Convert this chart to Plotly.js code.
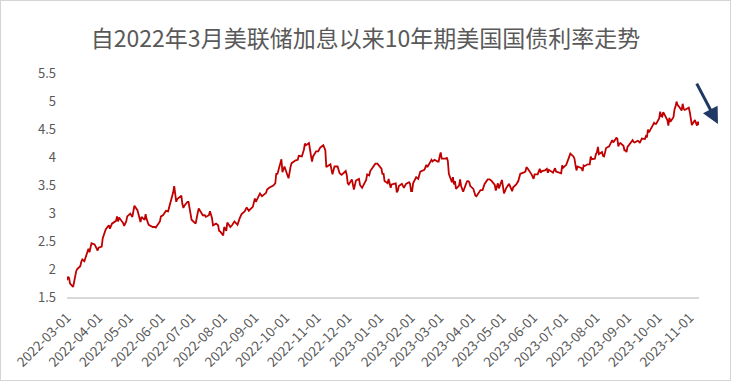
<!DOCTYPE html>
<html>
<head>
<meta charset="utf-8">
<script src="https://cdn.plot.ly/plotly-3.0.1.min.js"></script>
<style>
html,body{margin:0;padding:0;background:#fff;}
#chart{width:731px;height:381px;box-sizing:border-box;border:1px solid #d4d4d4;}
</style>
</head>
<body>
<div id="chart"></div>
<script>
const titleText = "自2022年3月美联储加息以来10年期美国国债利率走势";

const dates = [
"2022-03-01","2022-03-02","2022-03-03","2022-03-04","2022-03-07","2022-03-08","2022-03-09","2022-03-10","2022-03-11","2022-03-14","2022-03-15","2022-03-16","2022-03-18","2022-03-21","2022-03-22","2022-03-23","2022-03-25","2022-03-28","2022-03-30","2022-03-31",
"2022-04-01","2022-04-04","2022-04-05","2022-04-06","2022-04-08","2022-04-11","2022-04-12","2022-04-14","2022-04-18","2022-04-19","2022-04-20","2022-04-21","2022-04-22","2022-04-25","2022-04-26","2022-04-28","2022-04-29",
"2022-05-02","2022-05-04","2022-05-05","2022-05-06","2022-05-09","2022-05-10","2022-05-12","2022-05-13","2022-05-16","2022-05-17","2022-05-18","2022-05-20","2022-05-24","2022-05-26","2022-05-27","2022-05-31",
"2022-06-01","2022-06-03","2022-06-06","2022-06-08","2022-06-10","2022-06-13","2022-06-14","2022-06-15","2022-06-16","2022-06-17","2022-06-21","2022-06-22","2022-06-23","2022-06-24","2022-06-27","2022-06-28","2022-06-29","2022-06-30",
"2022-07-01","2022-07-05","2022-07-06","2022-07-07","2022-07-08","2022-07-11","2022-07-12","2022-07-14","2022-07-15","2022-07-18","2022-07-19","2022-07-21","2022-07-22","2022-07-25","2022-07-27","2022-07-28","2022-07-29",
"2022-08-01","2022-08-02","2022-08-04","2022-08-05","2022-08-08","2022-08-10","2022-08-12","2022-08-15","2022-08-17","2022-08-19","2022-08-22","2022-08-24","2022-08-26","2022-08-30",
"2022-09-01","2022-09-02","2022-09-06","2022-09-08","2022-09-12","2022-09-13","2022-09-15","2022-09-19","2022-09-21","2022-09-22","2022-09-23","2022-09-26","2022-09-27","2022-09-28","2022-09-30",
"2022-10-03","2022-10-04","2022-10-06","2022-10-07","2022-10-11","2022-10-13","2022-10-14","2022-10-17","2022-10-19","2022-10-20","2022-10-21","2022-10-24","2022-10-26","2022-10-27","2022-10-28","2022-10-31",
"2022-11-02","2022-11-04","2022-11-07","2022-11-09","2022-11-10","2022-11-14","2022-11-16","2022-11-18","2022-11-21","2022-11-23","2022-11-25","2022-11-29","2022-11-30",
"2022-12-01","2022-12-02","2022-12-05","2022-12-07","2022-12-09","2022-12-12","2022-12-13","2022-12-15","2022-12-16","2022-12-19","2022-12-20","2022-12-22","2022-12-23","2022-12-27","2022-12-28","2022-12-30",
"2023-01-03","2023-01-04","2023-01-05","2023-01-06","2023-01-09","2023-01-10","2023-01-11","2023-01-12","2023-01-13","2023-01-17","2023-01-18","2023-01-19","2023-01-20","2023-01-23","2023-01-25","2023-01-26","2023-01-27","2023-01-30","2023-01-31",
"2023-02-01","2023-02-02","2023-02-03","2023-02-06","2023-02-08","2023-02-10","2023-02-14","2023-02-15","2023-02-16","2023-02-17","2023-02-21","2023-02-22","2023-02-24","2023-02-27","2023-02-28",
"2023-03-01","2023-03-02","2023-03-03","2023-03-06","2023-03-07","2023-03-08","2023-03-09","2023-03-10","2023-03-13","2023-03-14","2023-03-15","2023-03-16","2023-03-17","2023-03-20","2023-03-21","2023-03-22","2023-03-23","2023-03-24","2023-03-27","2023-03-28","2023-03-29","2023-03-30","2023-03-31",
"2023-04-03","2023-04-05","2023-04-06","2023-04-10","2023-04-12","2023-04-14","2023-04-17","2023-04-19","2023-04-21","2023-04-24","2023-04-25","2023-04-27","2023-04-28",
"2023-05-01","2023-05-03","2023-05-04","2023-05-05","2023-05-08","2023-05-10","2023-05-11","2023-05-12","2023-05-15","2023-05-17","2023-05-19","2023-05-22","2023-05-24","2023-05-25","2023-05-26","2023-05-30","2023-05-31",
"2023-06-01","2023-06-02","2023-06-05","2023-06-07","2023-06-08","2023-06-09","2023-06-12","2023-06-14","2023-06-15","2023-06-16","2023-06-20","2023-06-22","2023-06-23","2023-06-26","2023-06-28","2023-06-29","2023-06-30",
"2023-07-03","2023-07-05","2023-07-06","2023-07-07","2023-07-10","2023-07-11","2023-07-12","2023-07-13","2023-07-14","2023-07-17","2023-07-18","2023-07-19","2023-07-20","2023-07-21","2023-07-24","2023-07-26","2023-07-27","2023-07-28","2023-07-31",
"2023-08-01","2023-08-02","2023-08-03","2023-08-04","2023-08-07","2023-08-08","2023-08-09","2023-08-10","2023-08-11","2023-08-14","2023-08-15","2023-08-16","2023-08-17","2023-08-18","2023-08-21","2023-08-22","2023-08-23","2023-08-24","2023-08-25","2023-08-28","2023-08-29","2023-08-30","2023-08-31",
"2023-09-01","2023-09-05","2023-09-06","2023-09-07","2023-09-08","2023-09-11","2023-09-12","2023-09-13","2023-09-14","2023-09-15","2023-09-18","2023-09-19","2023-09-20","2023-09-21","2023-09-22","2023-09-25","2023-09-26","2023-09-27","2023-09-28","2023-09-29",
"2023-10-02","2023-10-03","2023-10-04","2023-10-05","2023-10-06","2023-10-10","2023-10-11","2023-10-12","2023-10-13","2023-10-16","2023-10-17","2023-10-18","2023-10-19","2023-10-20","2023-10-23","2023-10-24","2023-10-25","2023-10-26","2023-10-27","2023-10-30","2023-10-31",
"2023-11-01","2023-11-02","2023-11-03","2023-11-06","2023-11-07","2023-11-08","2023-11-09","2023-11-10"
];

const yields = [
1.80,1.86,1.84,1.74,1.68,1.78,1.90,1.96,2.00,2.05,2.13,2.17,2.14,2.30,2.36,2.30,2.46,2.44,2.36,2.33,
2.38,2.40,2.55,2.60,2.71,2.78,2.72,2.81,2.86,2.94,2.85,2.92,2.90,2.82,2.77,2.85,2.94,
2.99,2.93,3.05,3.13,3.05,2.99,2.84,2.93,2.88,2.98,2.89,2.79,2.75,2.75,2.74,2.85,
2.94,2.96,3.04,3.03,3.16,3.37,3.48,3.33,3.20,3.25,3.31,3.16,3.09,3.13,3.20,3.20,3.10,2.98,
2.88,2.81,2.93,3.00,3.08,2.99,2.96,2.96,2.93,2.96,3.03,2.91,2.78,2.81,2.78,2.68,2.67,
2.60,2.75,2.68,2.83,2.75,2.79,2.85,2.79,2.90,2.98,3.03,3.10,3.04,3.11,
3.26,3.20,3.35,3.30,3.36,3.42,3.45,3.49,3.53,3.71,3.69,3.93,3.96,3.73,3.83,
3.67,3.62,3.83,3.89,3.94,3.95,4.02,4.01,4.13,4.24,4.21,4.25,4.02,3.92,4.01,4.10,
4.10,4.17,4.21,4.12,3.82,3.87,3.69,3.83,3.83,3.71,3.68,3.75,3.68,
3.53,3.51,3.60,3.42,3.58,3.61,3.50,3.45,3.48,3.59,3.69,3.67,3.75,3.84,3.88,3.88,
3.79,3.69,3.71,3.57,3.53,3.61,3.55,3.45,3.51,3.53,3.37,3.40,3.48,3.52,3.45,3.50,3.52,3.55,3.52,
3.39,3.39,3.53,3.64,3.61,3.74,3.77,3.81,3.86,3.82,3.95,3.92,3.95,3.92,3.92,
4.01,4.08,3.97,3.98,3.97,3.99,3.93,3.70,3.55,3.64,3.51,3.57,3.43,3.49,3.60,3.48,3.42,3.38,3.53,3.57,3.57,3.55,3.48,
3.43,3.31,3.30,3.41,3.41,3.52,3.60,3.60,3.57,3.50,3.40,3.53,3.44,
3.59,3.35,3.39,3.44,3.52,3.44,3.39,3.46,3.51,3.57,3.70,3.72,3.74,3.82,3.80,3.69,3.64,
3.61,3.69,3.69,3.79,3.72,3.75,3.76,3.79,3.72,3.77,3.72,3.80,3.74,3.72,3.71,3.85,3.81,
3.86,3.95,4.03,4.06,4.01,3.97,3.86,3.76,3.83,3.81,3.80,3.75,3.85,3.84,3.87,3.87,4.01,3.96,3.97,
4.05,4.08,4.18,4.05,4.09,4.02,4.01,4.09,4.16,4.19,4.22,4.26,4.30,4.26,4.34,4.33,4.19,4.24,4.25,4.20,4.12,4.12,4.09,
4.18,4.27,4.30,4.27,4.26,4.29,4.28,4.25,4.29,4.33,4.32,4.37,4.35,4.49,4.44,4.55,4.56,4.61,4.59,4.59,
4.69,4.81,4.73,4.72,4.80,4.66,4.56,4.70,4.63,4.71,4.85,4.90,4.99,4.93,4.86,4.83,4.95,4.86,4.84,4.88,4.88,
4.80,4.67,4.57,4.66,4.58,4.56,4.63,4.57
];

const xTickVals = ["2022-03-01","2022-04-01","2022-05-01","2022-06-01","2022-07-01","2022-08-01","2022-09-01","2022-10-01","2022-11-01","2022-12-01","2023-01-01","2023-02-01","2023-03-01","2023-04-01","2023-05-01","2023-06-01","2023-07-01","2023-08-01","2023-09-01","2023-10-01","2023-11-01"];
const xTickText = xTickVals.slice();
const yTickVals = [1.5,2,2.5,3,3.5,4,4.5,5,5.5];
const yTickText = ["1.5","2","2.5","3","3.5","4","4.5","5","5.5"];

const trace = {
  x: dates, y: yields, type: "scatter", mode: "lines",
  line: {color: "#c00000", width: 1.8},
  hoverinfo: "x+y"
};

const layout = {
  width: 729, height: 379,
  margin: {l: 66, r: 31, t: 72, b: 83},
  paper_bgcolor: "#ffffff", plot_bgcolor: "#ffffff",
  showlegend: false,
  title: {text: titleText, x: 0.5, xref: "container", xanchor: "center", y: 0.90, yanchor: "middle",
    font: {family: "Noto Sans CJK SC, sans-serif", size: 23, color: "#595959"}},
  font: {family: "Noto Sans CJK SC, sans-serif", color: "#595959"},
  xaxis: {
    type: "date", range: ["2022-03-01", "2023-11-10"],
    tickmode: "array", tickvals: xTickVals, ticktext: xTickText,
    tickangle: -45, tickfont: {size: 13.5, color: "#595959", family: "Noto Sans CJK SC, sans-serif"},
    showgrid: false, zeroline: false,
    showline: true, linecolor: "#d9d9d9", linewidth: 1.5,
    ticks: "", ticklabelstandoff: 6, fixedrange: true
  },
  yaxis: {
    range: [1.5, 5.5], tickmode: "array", tickvals: yTickVals, ticktext: yTickText,
    tickfont: {size: 13, color: "#595959", family: "Noto Sans CJK SC, sans-serif"},
    showgrid: false, zeroline: false, showline: false, ticks: "",
    ticklabelstandoff: 10, fixedrange: true
  },
  annotations: [{
    xref: "paper", yref: "paper", x: 1.03, y: 0.772,
    ax: -22, ay: -42, axref: "pixel", ayref: "pixel",
    showarrow: true, arrowhead: 2, arrowsize: 1.1, arrowwidth: 3,
    arrowcolor: "#1f3864", text: ""
  }]
};

Plotly.newPlot("chart", [trace], layout, {displayModeBar: false, staticPlot: true});
</script>
</body>
</html>
